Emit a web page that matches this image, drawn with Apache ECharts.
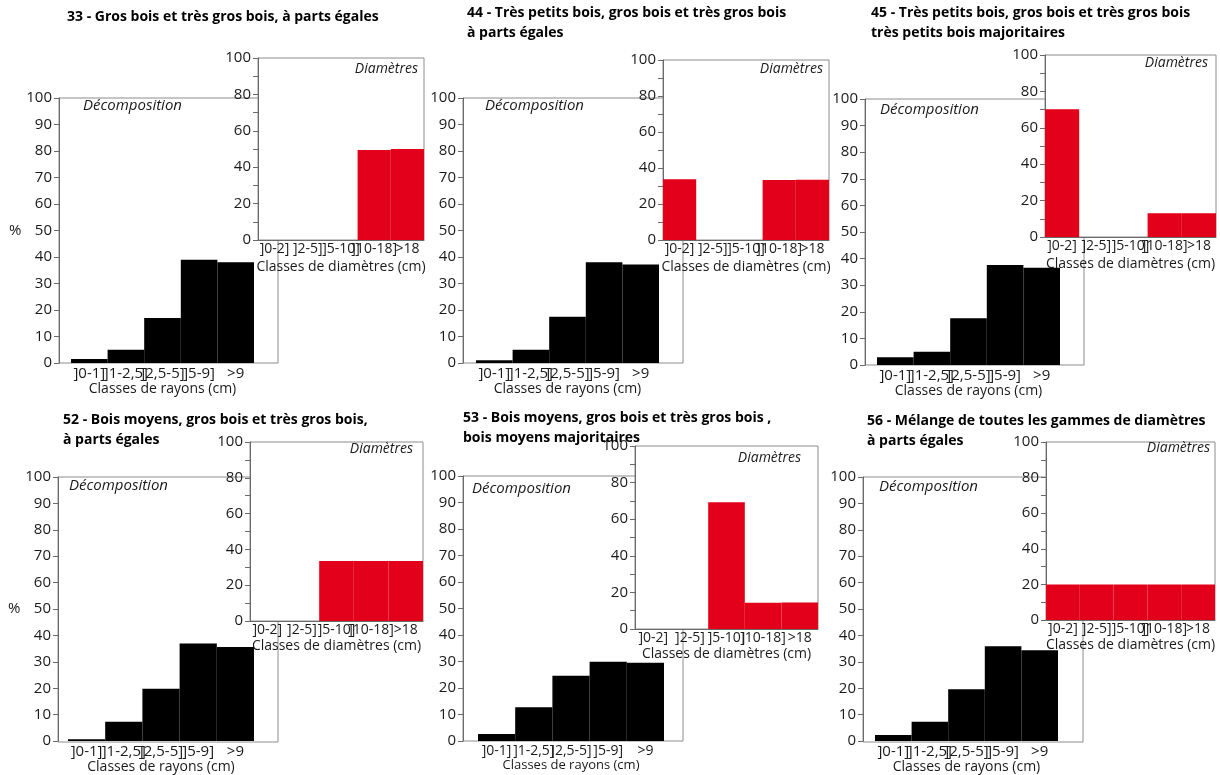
<!DOCTYPE html>
<html>
<head>
<meta charset="utf-8">
<script src="https://cdn.jsdelivr.net/npm/echarts@6/dist/echarts.min.js"></script>
<style>
html,body{margin:0;padding:0;background:#fff;}
#c{width:1220px;height:775px;}
</style>
</head>
<body>
<div id="c"></div>
<script>
// ---- data ----
const rayonClasses = [']0-1]', ']1-2,5]', ']2,5-5]', ']5-9]', '>9'];
const diamClasses = [']0-2]', ']2-5]', ']5-10]', ']10-18]', '>18'];

const titles = [
  '33 - Gros bois et très gros bois, à parts égales',
  '44 - Très petits bois, gros bois et très gros bois\nà parts égales',
  '45 - Très petits bois, gros bois et très gros bois\ntrès petits bois majoritaires',
  '52 - Bois moyens, gros bois et très gros bois,\nà parts égales',
  '53 - Bois moyens, gros bois et très gros bois ,\nbois moyens majoritaires',
  '56 - Mélange de toutes les gammes de diamètres\nà parts égales'
];

const decomp33 = [1.5, 5, 17, 39, 38];
const decomp44 = [1, 5, 17.5, 38, 37.2];
const decomp45 = [2.9, 5, 17.6, 37.6, 36.6];
const decomp52 = [0.7, 7.3, 19.8, 37, 35.6];
const decomp53 = [2.6, 12.7, 24.6, 29.9, 29.5];
const decomp56 = [2.3, 7.3, 19.6, 35.9, 34.4];

const diam33 = [0, 0, 0, 49.5, 50];
const diam44 = [33.7, 0, 0, 33.3, 33.5];
const diam45 = [70.2, 0, 0, 13, 13];
const diam52 = [0, 0, 33.5, 33.5, 33.5];
const diam53 = [0, 0, 69.2, 14.3, 14.5];
const diam56 = [20, 20, 20, 20, 20];

const decompSeries = [decomp33, decomp44, decomp45, decomp52, decomp53, decomp56];
const diamSeries = [diam33, diam44, diam45, diam52, diam53, diam56];

const mainMax = 100, mainInterval = 10;
const insetMax = 100, insetInterval = 20;

// ---- layout (pixel positions) ----
const layout = [
  {frame:[59,98,278,363],  bars:[71,254],  inset:[258,58,424,240],  title:[67,17],  deco:[83,106],  diamT:[418,69],  pct:true},
  {frame:[463,98,683,363], bars:[476,659], inset:[663,60,829,240],  title:[467,13], deco:[485,106], diamT:[823,69],  pct:false},
  {frame:[865,99,1084,365],bars:[877,1060],inset:[1045,55,1216,237],title:[871,13], deco:[880,110], diamT:[1208,63], pct:false},
  {frame:[58,477,278,742], bars:[68,254],  inset:[250,442,423,621], title:[63,420], deco:[69,486],  diamT:[413,449], pct:true},
  {frame:[463,476,683,741],bars:[478,664], inset:[635,446,818,629], title:[463,418],deco:[472,489], diamT:[801,458], pct:false},
  {frame:[863,477,1083,742],bars:[875,1058],inset:[1046,442,1215,620],title:[867,421],deco:[879,487],diamT:[1210,448],pct:false}
];

const FONT = '"Open Sans", "Noto Sans", "DejaVu Sans", sans-serif';
const TXT = '#1a1a1a';
const AXC = '#6a6a6a';
const BOX = '#8c8c8c';
const RED = '#e2001a';

const option = {animation:false, backgroundColor:'#fff', title:[], grid:[], xAxis:[], yAxis:[], series:[]};

layout.forEach((L, i) => {
  option.title.push({
    text: titles[i], left: L.title[0], top: L.title[1] - 10, padding: 0,
    textStyle: {fontFamily: FONT, fontWeight: 'bold', fontSize: 14, lineHeight: 20, color: '#000'}
  });
  option.title.push({
    text: 'Décomposition', left: L.deco[0], top: L.deco[1] - 10, padding: 0,
    textStyle: {fontFamily: FONT, fontStyle: 'italic', fontWeight: 'normal', fontSize: 15, lineHeight: 20, color: TXT}
  });

  // frame grid (box around the decomposition plot)
  const fg = option.grid.length;
  option.grid.push({left: L.frame[0], top: L.frame[1], width: L.frame[2] - L.frame[0], height: L.frame[3] - L.frame[1],
    show: true, borderColor: BOX, borderWidth: 1, backgroundColor: 'transparent', z: 0});
  option.xAxis.push({gridIndex: fg, type: 'value', show: false});
  option.yAxis.push({gridIndex: fg, type: 'value', show: false});

  // bars grid (decomposition)
  const bg = option.grid.length;
  option.grid.push({left: L.bars[0], top: L.frame[1], width: L.bars[1] - L.bars[0], height: L.frame[3] - L.frame[1], z: 0});
  const bx = option.xAxis.length;
  option.xAxis.push({gridIndex: bg, type: 'category', data: rayonClasses,
    axisLine: {show: false}, axisTick: {show: false},
    axisLabel: {interval: 0, margin: 3, fontSize: i === 4 ? 14 : 15, fontFamily: FONT, color: TXT},
    name: 'Classes de rayons (cm)', nameLocation: 'middle', nameGap: i < 3 ? 16 : 18,
    nameTextStyle: {fontSize: i === 4 ? 13 : 14, fontFamily: FONT, color: TXT}});
  const by = option.yAxis.length;
  option.yAxis.push({gridIndex: bg, type: 'value', min: 0, max: mainMax, interval: mainInterval,
    offset: L.bars[0] - L.frame[0],
    axisLine: {show: true, lineStyle: {color: AXC, width: 1}},
    axisTick: {show: true, length: 5, lineStyle: {color: AXC}},
    axisLabel: {margin: 7, fontSize: 15, fontFamily: FONT, color: TXT},
    splitLine: {show: false},
    name: L.pct ? '%' : '', nameLocation: 'middle', nameRotate: 0, nameGap: 33,
    nameTextStyle: {fontSize: 15, fontFamily: FONT, color: TXT, padding: [0, 0, 26, 0]}});
  option.series.push({type: 'bar', name: 'Décomposition ' + i, xAxisIndex: bx, yAxisIndex: by,
    data: decompSeries[i], barCategoryGap: '0%',
    itemStyle: {color: '#000', borderColor: '#000', borderWidth: 1.5}, z: 2});

  // inset grid (diameters)
  const ig = option.grid.length;
  option.grid.push({left: L.inset[0], top: L.inset[1], width: L.inset[2] - L.inset[0], height: L.inset[3] - L.inset[1],
    show: true, backgroundColor: '#fff', borderColor: BOX, borderWidth: 1, z: 3});
  const ix = option.xAxis.length;
  option.xAxis.push({gridIndex: ig, type: 'category', data: diamClasses, z: 4,
    axisLine: {show: true, lineStyle: {color: AXC}}, axisTick: {show: false},
    axisLabel: {interval: 0, margin: 2, fontSize: 14, fontFamily: FONT, color: TXT},
    name: 'Classes de diamètres (cm)', nameLocation: 'middle', nameGap: i < 3 ? 20 : 18,
    nameTextStyle: {fontSize: 14, fontFamily: FONT, color: TXT}});
  const iy = option.yAxis.length;
  option.yAxis.push({gridIndex: ig, type: 'value', min: 0, max: insetMax, interval: insetInterval, z: 4,
    axisLine: {show: true, lineStyle: {color: AXC}},
    axisTick: {show: true, length: 5, lineStyle: {color: AXC}},
    minorTick: {show: true, splitNumber: 2, length: 5, lineStyle: {color: AXC}},
    axisLabel: {margin: 7, fontSize: 15, fontFamily: FONT, color: TXT},
    splitLine: {show: false}, minorSplitLine: {show: false}});
  option.series.push({type: 'bar', name: 'Diamètres ' + i, xAxisIndex: ix, yAxisIndex: iy,
    data: diamSeries[i].map(v => ({value: v, itemStyle: v > 0 ? {borderColor: RED, borderWidth: 1.5} : {borderWidth: 0}})),
    barCategoryGap: '0%',
    itemStyle: {color: RED}, z: 5});

  option.title.push({
    text: 'Diamètres', left: L.diamT[0], top: L.diamT[1] - 10, padding: 0, textAlign: 'right', z: 10,
    textStyle: {fontFamily: FONT, fontStyle: 'italic', fontWeight: 'normal', fontSize: 14, lineHeight: 20, color: TXT}
  });
});

const chart = echarts.init(document.getElementById('c'), null, {renderer: 'canvas'});
chart.setOption(option);
</script>
</body>
</html>
